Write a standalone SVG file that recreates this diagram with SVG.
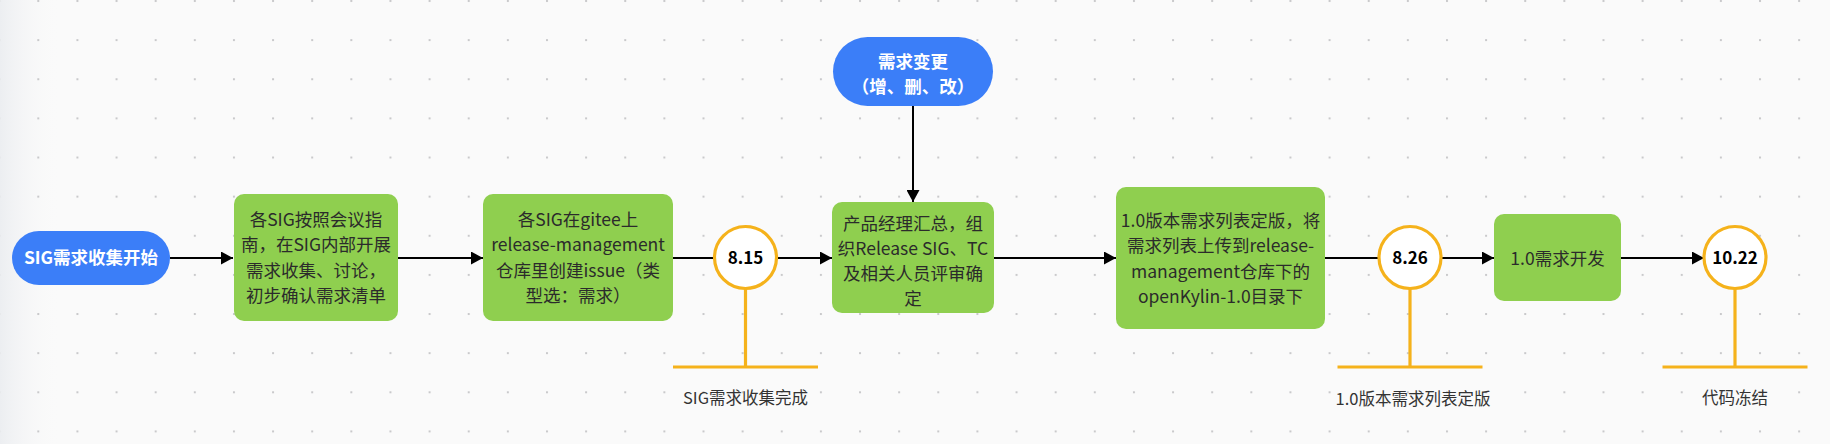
<svg xmlns="http://www.w3.org/2000/svg" width="1830" height="444" viewBox="0 0 1830 444">
<defs>
<pattern id="dots" patternUnits="userSpaceOnUse" x="37.3" y="0" width="39.13" height="39.13">
<rect x="0" y="0" width="2" height="2" fill="#c9c9cb"/>
</pattern>
<linearGradient id="edge" x1="0" y1="0" x2="1" y2="0">
<stop offset="0" stop-color="#eceef1"/>
<stop offset="1" stop-color="#fafafa" stop-opacity="0"/>
</linearGradient>
<marker id="arr" viewBox="0 0 12 13" refX="12" refY="6.5" markerWidth="12" markerHeight="13" markerUnits="userSpaceOnUse" orient="auto">
<path d="M0,0 L12,6.5 L0,13 z" fill="#000"/>
</marker>
<style>
.pill{fill:#3b7ef8}
.box{fill:#8fcf4f}
.pt{font-family:"Noto Sans CJK SC","Noto Sans",sans-serif;font-size:17.5px;font-weight:bold;fill:#fff;text-anchor:middle}
.bt{font-family:"Noto Sans CJK SC","Noto Sans",sans-serif;font-size:17.5px;fill:#2b2b2b;text-anchor:middle}
.ms{fill:#fff;stroke:#f5b21b;stroke-width:3.2}
.mline{stroke:#f5b21b;stroke-width:3.2;fill:none}
.mt{font-family:"Noto Sans CJK SC","Noto Sans",sans-serif;font-size:17px;font-weight:bold;fill:#000;text-anchor:middle}
.lb{font-family:"Noto Sans CJK SC","Noto Sans",sans-serif;font-size:16.5px;fill:#333;text-anchor:middle}
.c{stroke:#000;stroke-width:2;fill:none}
</style>
</defs>
<rect width="1830" height="444" fill="#fafafa"/>
<rect width="60" height="444" fill="url(#edge)"/>
<rect width="1830" height="444" fill="url(#dots)"/>

<g id="connectors">
<line class="c" x1="170" y1="258" x2="233" y2="258" marker-end="url(#arr)"/>
<line class="c" x1="398" y1="258" x2="483" y2="258" marker-end="url(#arr)"/>
<line class="c" x1="673" y1="258" x2="714" y2="258"/>
<line class="c" x1="777" y1="258" x2="832" y2="258" marker-end="url(#arr)"/>
<line class="c" x1="913" y1="106" x2="913" y2="202" marker-end="url(#arr)"/>
<line class="c" x1="994" y1="258" x2="1116" y2="258" marker-end="url(#arr)"/>
<line class="c" x1="1325" y1="258" x2="1379" y2="258"/>
<line class="c" x1="1441" y1="258" x2="1494" y2="258" marker-end="url(#arr)"/>
<line class="c" x1="1621" y1="258" x2="1704" y2="258" marker-end="url(#arr)"/>
</g>

<g id="start">
<rect class="pill" x="12" y="231" width="158" height="54" rx="27"/>
<text class="pt" x="91" y="264">SIG需求收集开始</text>
</g>

<g id="change">
<rect class="pill" x="833" y="37" width="160" height="69" rx="34.5"/>
<text class="pt" x="913" y="68">需求变更</text>
<text class="pt" x="913" y="93">（增、删、改）</text>
</g>

<g id="step1">
<rect class="box" x="234" y="194" width="164" height="127" rx="10"/>
<text class="bt" x="316" y="225.5">各SIG按照会议指</text>
<text class="bt" x="316" y="251.1">南，在SIG内部开展</text>
<text class="bt" x="316" y="276.7">需求收集、讨论，</text>
<text class="bt" x="316" y="302.3">初步确认需求清单</text>
</g>

<g id="step2">
<rect class="box" x="483" y="194" width="190" height="127" rx="10"/>
<text class="bt" x="578" y="225.5">各SIG在gitee上</text>
<text class="bt" x="578" y="251.1">release-management</text>
<text class="bt" x="578" y="276.7">仓库里创建issue（类</text>
<text class="bt" x="578" y="302.3">型选：需求）</text>
</g>

<g id="m815">
<line class="mline" x1="745.5" y1="288" x2="745.5" y2="367"/>
<line class="mline" x1="673" y1="367" x2="818" y2="367"/>
<circle class="ms" cx="745.5" cy="257.5" r="31"/>
<text class="mt" x="745.5" y="263.5">8.15</text>
<text class="lb" x="745.5" y="404">SIG需求收集完成</text>
</g>

<g id="step3">
<rect class="box" x="832" y="202" width="162" height="111" rx="10"/>
<text class="bt" x="913" y="229.5">产品经理汇总，组</text>
<text class="bt" x="913" y="254.5">织Release SIG、TC</text>
<text class="bt" x="913" y="279.5">及相关人员评审确</text>
<text class="bt" x="913" y="304.5">定</text>
</g>

<g id="step4">
<rect class="box" x="1116" y="187" width="209" height="142" rx="10"/>
<text class="bt" x="1220.5" y="226.5">1.0版本需求列表定版，将</text>
<text class="bt" x="1220.5" y="252.1">需求列表上传到release-</text>
<text class="bt" x="1220.5" y="277.7">management仓库下的</text>
<text class="bt" x="1220.5" y="303.3">openKylin-1.0目录下</text>
</g>

<g id="m826">
<line class="mline" x1="1410" y1="288" x2="1410" y2="367"/>
<line class="mline" x1="1337.5" y1="367" x2="1482.5" y2="367"/>
<circle class="ms" cx="1410" cy="257.5" r="31"/>
<text class="mt" x="1410" y="263.5">8.26</text>
<text class="lb" x="1413" y="405">1.0版本需求列表定版</text>
</g>

<g id="step5">
<rect class="box" x="1494" y="214" width="127" height="87" rx="10"/>
<text class="bt" x="1557.5" y="264.5">1.0需求开发</text>
</g>

<g id="m1022">
<line class="mline" x1="1735" y1="288" x2="1735" y2="367"/>
<line class="mline" x1="1662.5" y1="367" x2="1807.5" y2="367"/>
<circle class="ms" cx="1735" cy="257.5" r="31"/>
<text class="mt" x="1735" y="263.5">10.22</text>
<text class="lb" x="1735" y="404">代码冻结</text>
</g>
</svg>
